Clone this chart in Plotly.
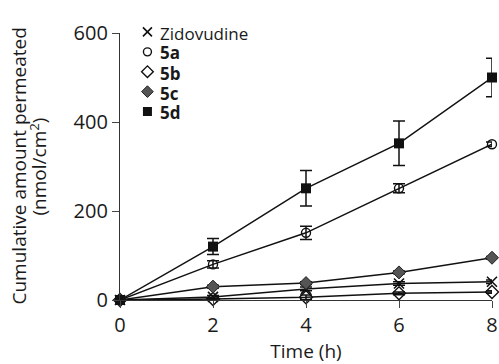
import plotly.graph_objects as go

time_h = [0, 2, 4, 6, 8]

zidovudine = [0, 7, 25, 37, 41]
zidovudine_err = [0, 3, 4, 4, 4]
s5a = [0, 80, 151, 251, 350]
s5a_err = [0, 8, 15, 10, 5]
s5b = [0, 2, 6, 15, 18]
s5b_err = [0, 2, 5, 3, 3]
s5c = [0, 30, 38, 62, 95]
s5c_err = [0, 3, 3, 3, 3]
s5d = [0, 120, 251, 352, 500]
s5d_err = [0, 18, 40, 50, 43]

series_names = ["Zidovudine", "<b>5a</b>", "<b>5b</b>", "<b>5c</b>", "<b>5d</b>"]
y_ticks = [0, 200, 400, 600]
x_ticks = [0, 2, 4, 6, 8]
y_title_lines = ["Cumulative amount permeated", "(nmol/cm<sup>2</sup>)"]
x_title = "Time (h)"

markers = [
    dict(symbol="x-thin-open", size=10, color="#111", line=dict(width=1.6, color="#111")),
    dict(symbol="circle-open", size=9, color="#111", line=dict(width=1.4, color="#111")),
    dict(symbol="diamond-open", size=10, color="#111", line=dict(width=1.4, color="#111")),
    dict(symbol="diamond", size=10, color="#555", line=dict(width=1, color="#222")),
    dict(symbol="square", size=10, color="#111", line=dict(width=0, color="#111")),
]
values = [zidovudine, s5a, s5b, s5c, s5d]
errors = [zidovudine_err, s5a_err, s5b_err, s5c_err, s5d_err]

fig = go.Figure()
for name, ys, errs, mk in zip(series_names, values, errors, markers):
    fig.add_trace(go.Scatter(
        x=time_h, y=ys, mode="lines+markers", name=name, showlegend=False,
        line=dict(color="#111", width=1.5), marker=mk, cliponaxis=False,
        error_y=dict(type="data", array=errs, visible=True, color="#111", thickness=1.5, width=6),
    ))
# legend symbols (text drawn as annotations for tighter spacing)
for name, mk in zip(series_names, markers):
    lm = dict(mk)
    lm["size"] = mk["size"] - 1
    fig.add_trace(go.Scatter(x=[None], y=[None], mode="markers", name=" ", marker=lm, showlegend=True))

font = "Open Sans, Noto Sans, DejaVu Sans, sans-serif"
annotations = []
leg_top_px = 33
leg_step_px = 20
for i, name in enumerate(series_names):
    ypx = leg_top_px + i * leg_step_px
    annotations.append(dict(
        xref="paper", yref="paper", x=(158 - 120) / 372, y=(300 - ypx) / 267,
        xanchor="left", yanchor="middle", text=name, showarrow=False,
        font=dict(size=17, color="#1a1a1a"),
    ))
for xpx, line in zip([18, 38], y_title_lines):
    annotations.append(dict(
        xref="paper", yref="paper", x=(xpx - 120) / 372, y=0.5,
        xanchor="center", yanchor="middle", text=line, textangle=-90, showarrow=False,
        font=dict(size=19, color="#1a1a1a"),
    ))

fig.update_layout(
    width=499, height=364,
    margin=dict(l=120, r=7, t=33, b=64, autoexpand=False),
    plot_bgcolor="white", paper_bgcolor="white",
    font=dict(family=font, color="#1a1a1a", size=16),
    showlegend=True,
    legend=dict(x=0.02, y=1.06, xanchor="left", yanchor="top", bgcolor="rgba(0,0,0,0)",
                font=dict(size=13, color="#1a1a1a"), tracegroupgap=0, itemwidth=30),
    annotations=annotations,
    xaxis=dict(range=[0, 8], tickvals=x_ticks, ticks="outside", ticklen=7, tickwidth=1.2,
               showline=True, linecolor="#333", linewidth=1.2, showgrid=False, zeroline=False,
               tickfont=dict(size=20), automargin=False,
               title=dict(text=x_title, font=dict(size=19), standoff=15)),
    yaxis=dict(range=[0, 600], tickvals=y_ticks, ticks="outside", ticklen=7, tickwidth=1.2,
               showline=True, linecolor="#333", linewidth=1.2, showgrid=False, zeroline=False,
               tickfont=dict(size=20), automargin=False),
)

fig.write_html("out.html", config={"displayModeBar": False},
               post_script="document.body.style.margin='0';")
